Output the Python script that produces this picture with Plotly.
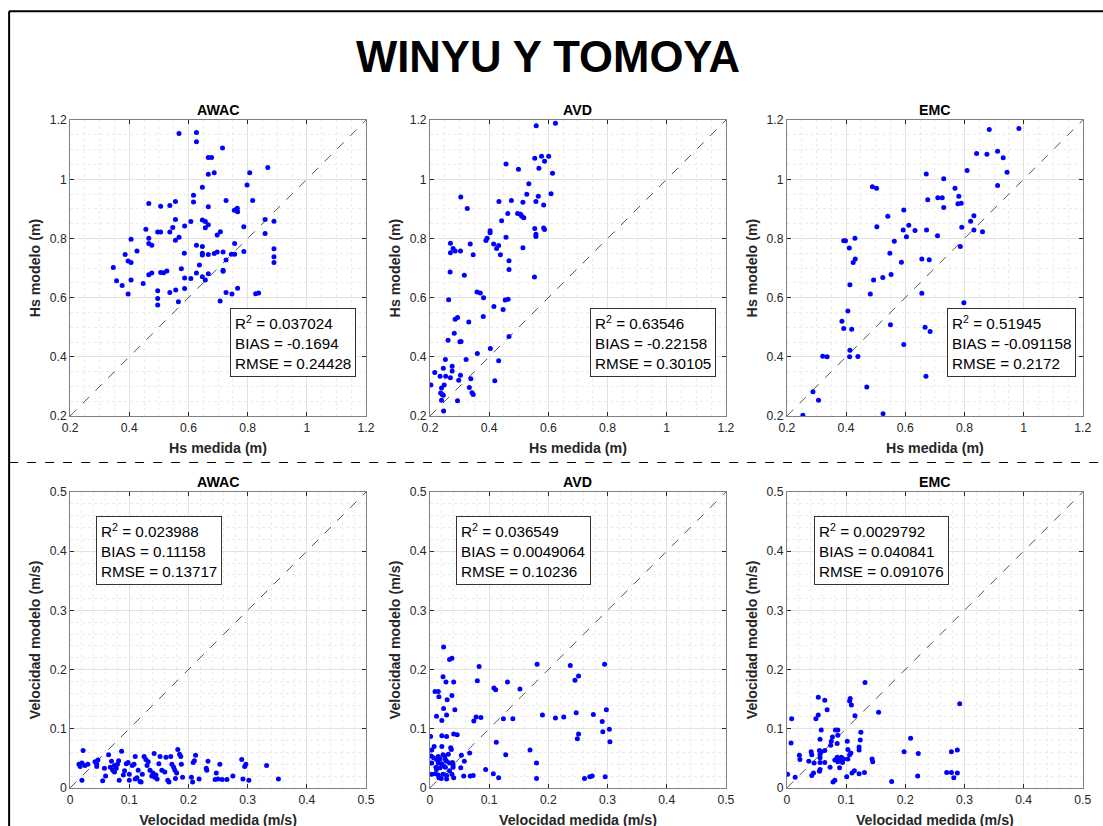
import plotly.graph_objects as go

# The captured picture shows the page slightly reduced and offset by the body margin;
# positions below are given in picture pixels and mapped back to figure pixels.
W, H = 1103, 826
PAGE_MARGIN = 8
SX, SY, OY = 0.985, 0.9835, -2.0
FW = int(round(W / SX - PAGE_MARGIN))
FH = int(round((H - OY) / SY - PAGE_MARGIN))
FS = 1 / SX  # font scale

# ---------------- data ----------------
names = ["AWAC", "AVD", "EMC"]

awac_hs_med = [0.568, 0.627, 0.627, 0.715, 0.667, 0.678, 0.667, 0.687, 0.868, 0.807, 0.798, 0.647,
               0.617, 0.617, 0.466, 0.506, 0.537, 0.556, 0.667, 0.727, 0.817, 0.755, 0.762, 0.765,
               0.766, 0.556, 0.608, 0.647, 0.657, 0.667, 0.657, 0.587, 0.547, 0.456, 0.787, 0.859,
               0.889, 0.859, 0.496, 0.506, 0.537, 0.708, 0.697, 0.406, 0.466, 0.568, 0.556, 0.426,
               0.466, 0.476, 0.386, 0.627, 0.647, 0.586, 0.647, 0.647, 0.667, 0.687, 0.697, 0.717,
               0.756, 0.745, 0.756, 0.787, 0.889, 0.889, 0.889, 0.727, 0.396, 0.406, 0.346, 0.637,
               0.576, 0.506, 0.516, 0.527, 0.466, 0.476, 0.717, 0.717, 0.627, 0.667, 0.647, 0.657,
               0.587, 0.608, 0.357, 0.406, 0.376, 0.447, 0.557, 0.587, 0.496, 0.537, 0.396, 0.727,
               0.747, 0.766, 0.827, 0.837, 0.496, 0.496, 0.566, 0.707]
awac_hs_mod = [1.155, 1.158, 1.127, 1.106, 1.074, 1.074, 1.017, 1.022, 1.040, 1.022, 0.981, 0.973,
               0.946, 0.923, 0.918, 0.909, 0.911, 0.925, 0.907, 0.928, 0.928, 0.895, 0.898, 0.902,
               0.890, 0.864, 0.857, 0.862, 0.857, 0.846, 0.836, 0.842, 0.837, 0.831, 0.840, 0.864,
               0.858, 0.817, 0.822, 0.822, 0.822, 0.823, 0.812, 0.797, 0.801, 0.804, 0.794, 0.758,
               0.783, 0.777, 0.746, 0.777, 0.773, 0.750, 0.750, 0.744, 0.746, 0.749, 0.754, 0.754,
               0.783, 0.747, 0.747, 0.756, 0.765, 0.738, 0.719, 0.727, 0.724, 0.719, 0.702, 0.710,
               0.698, 0.685, 0.684, 0.690, 0.677, 0.683, 0.693, 0.689, 0.683, 0.681, 0.671, 0.660,
               0.666, 0.665, 0.657, 0.660, 0.641, 0.648, 0.626, 0.631, 0.623, 0.617, 0.612, 0.617,
               0.612, 0.632, 0.613, 0.616, 0.597, 0.575, 0.586, 0.589]

avd_hs_med = [0.624, 0.559, 0.577, 0.601, 0.554, 0.587, 0.457, 0.499, 0.568, 0.614, 0.534, 0.527,
              0.609, 0.566, 0.304, 0.433, 0.475, 0.514, 0.558, 0.584, 0.326, 0.463, 0.496, 0.506,
              0.510, 0.517, 0.442, 0.403, 0.403, 0.554, 0.584, 0.587, 0.393, 0.389, 0.457, 0.558,
              0.558, 0.415, 0.425, 0.432, 0.336, 0.269, 0.278, 0.285, 0.269, 0.303, 0.346, 0.514,
              0.438, 0.467, 0.467, 0.268, 0.316, 0.553, 0.359, 0.370, 0.381, 0.454, 0.464, 0.263,
              0.416, 0.447, 0.380, 0.293, 0.285, 0.331, 0.282, 0.261, 0.301, 0.305, 0.467, 0.404,
              0.360, 0.322, 0.432, 0.252, 0.275, 0.275, 0.245, 0.216, 0.234, 0.253, 0.269, 0.303,
              0.297, 0.338, 0.419, 0.248, 0.203, 0.239, 0.333, 0.236, 0.241, 0.245, 0.342, 0.346,
              0.239, 0.293, 0.246]
avd_hs_mod = [1.189, 1.181, 1.078, 1.078, 1.071, 1.061, 1.052, 1.034, 1.037, 1.020, 0.985, 0.949,
              0.951, 0.943, 0.940, 0.925, 0.928, 0.922, 0.925, 0.913, 0.901, 0.884, 0.884, 0.882,
              0.875, 0.870, 0.860, 0.826, 0.819, 0.834, 0.835, 0.830, 0.801, 0.793, 0.804, 0.814,
              0.807, 0.781, 0.766, 0.776, 0.781, 0.784, 0.766, 0.758, 0.752, 0.758, 0.745, 0.769,
              0.745, 0.725, 0.695, 0.687, 0.676, 0.670, 0.619, 0.616, 0.600, 0.592, 0.595, 0.593,
              0.570, 0.560, 0.536, 0.533, 0.527, 0.518, 0.480, 0.456, 0.451, 0.452, 0.469, 0.428,
              0.411, 0.391, 0.387, 0.391, 0.368, 0.352, 0.361, 0.347, 0.334, 0.334, 0.329, 0.338,
              0.321, 0.326, 0.319, 0.305, 0.305, 0.295, 0.296, 0.278, 0.273, 0.270, 0.279, 0.273,
              0.253, 0.252, 0.217]

emc_hs_med = [0.884, 0.984, 0.912, 0.841, 0.876, 0.931, 0.809, 0.944, 0.671, 0.730, 0.912, 0.489,
              0.503, 0.768, 0.676, 0.710, 0.725, 0.781, 0.778, 0.789, 0.730, 0.595, 0.541, 0.504,
              0.612, 0.593, 0.633, 0.672, 0.821, 0.832, 0.832, 0.791, 0.861, 0.604, 0.709, 0.392,
              0.398, 0.430, 0.563, 0.411, 0.786, 0.548, 0.431, 0.656, 0.424, 0.681, 0.587, 0.552,
              0.524, 0.493, 0.413, 0.482, 0.656, 0.798, 0.406, 0.386, 0.392, 0.419, 0.550, 0.667,
              0.684, 0.595, 0.413, 0.412, 0.321, 0.336, 0.440, 0.670, 0.470, 0.288, 0.307, 0.254,
              0.525]
emc_hs_mod = [1.168, 1.172, 1.095, 1.087, 1.085, 1.073, 1.030, 1.024, 1.018, 1.002, 0.979, 0.975,
              0.970, 0.970, 0.931, 0.938, 0.938, 0.943, 0.917, 0.919, 0.905, 0.896, 0.875, 0.840,
              0.845, 0.829, 0.827, 0.829, 0.858, 0.877, 0.829, 0.838, 0.823, 0.806, 0.809, 0.792,
              0.792, 0.801, 0.791, 0.768, 0.773, 0.750, 0.731, 0.731, 0.719, 0.728, 0.720, 0.678,
              0.668, 0.660, 0.644, 0.612, 0.615, 0.583, 0.555, 0.520, 0.496, 0.493, 0.508, 0.500,
              0.486, 0.442, 0.422, 0.400, 0.402, 0.400, 0.401, 0.334, 0.298, 0.282, 0.253, 0.203,
              0.208]

awac_v_med = [0.015, 0.017, 0.020, 0.022, 0.020, 0.025, 0.030, 0.042, 0.045, 0.047, 0.045, 0.055,
              0.060, 0.058, 0.065, 0.068, 0.070, 0.072, 0.075, 0.075, 0.078, 0.080, 0.082, 0.083,
              0.087, 0.090, 0.092, 0.095, 0.098, 0.100, 0.100, 0.105, 0.108, 0.110, 0.110, 0.113,
              0.115, 0.118, 0.120, 0.122, 0.125, 0.128, 0.130, 0.132, 0.135, 0.138, 0.140, 0.142,
              0.143, 0.145, 0.147, 0.150, 0.152, 0.155, 0.160, 0.162, 0.165, 0.167, 0.170, 0.172,
              0.175, 0.177, 0.178, 0.180, 0.182, 0.185, 0.187, 0.188, 0.190, 0.205, 0.207, 0.208,
              0.210, 0.212, 0.218, 0.230, 0.231, 0.233, 0.245, 0.247, 0.250, 0.253, 0.257, 0.265,
              0.275, 0.290, 0.292, 0.295, 0.297, 0.302, 0.332, 0.352]
awac_v_mod = [0.040, 0.036, 0.042, 0.063, 0.013, 0.038, 0.040, 0.044, 0.036, 0.047, 0.040, 0.012,
              0.020, 0.033, 0.056, 0.035, 0.045, 0.030, 0.038, 0.027, 0.033, 0.040, 0.046, 0.013,
              0.062, 0.022, 0.029, 0.041, 0.043, 0.023, 0.013, 0.038, 0.040, 0.053, 0.015, 0.017,
              0.030, 0.011, 0.010, 0.023, 0.053, 0.048, 0.038, 0.044, 0.030, 0.020, 0.025, 0.058,
              0.018, 0.022, 0.015, 0.041, 0.053, 0.030, 0.027, 0.052, 0.013, 0.010, 0.053, 0.040,
              0.035, 0.030, 0.016, 0.025, 0.065, 0.057, 0.053, 0.040, 0.018, 0.018, 0.010, 0.043,
              0.046, 0.055, 0.015, 0.033, 0.030, 0.045, 0.014, 0.025, 0.015, 0.040, 0.014, 0.014,
              0.020, 0.048, 0.015, 0.036, 0.040, 0.013, 0.038, 0.015]

avd_v_med = [0.023, 0.033, 0.037, 0.022, 0.027, 0.040, 0.0085, 0.014, 0.015, 0.029, 0.037, 0.023,
             0.042, 0.011, 0.028, 0.020, 0.001, 0.020, 0.028, 0.040, 0.046, 0.007, 0.003, 0.020,
             0.035, 0.036, 0.002, 0.006, 0.014, 0.022, 0.025, 0.031, 0.011, 0.017, 0.026, 0.028,
             0.000, 0.003, 0.014, 0.020, 0.033, 0.038, 0.039, 0.010, 0.011, 0.017, 0.023, 0.026,
             0.033, 0.039, 0.003, 0.009, 0.014, 0.022, 0.028, 0.037, 0.015, 0.019, 0.028, 0.040,
             0.053, 0.058, 0.052, 0.057, 0.067, 0.068, 0.073, 0.074, 0.078, 0.086, 0.080, 0.083,
             0.094, 0.107, 0.108, 0.111, 0.112, 0.116, 0.124, 0.131, 0.140, 0.128, 0.152, 0.169,
             0.180, 0.180, 0.181, 0.190, 0.212, 0.226, 0.237, 0.245, 0.251, 0.247, 0.249, 0.251,
             0.261, 0.270, 0.274, 0.276, 0.291, 0.292, 0.295, 0.298, 0.296, 0.303, 0.304]
avd_v_mod = [0.238, 0.217, 0.219, 0.188, 0.179, 0.179, 0.163, 0.163, 0.154, 0.149, 0.156, 0.134,
             0.132, 0.121, 0.123, 0.114, 0.087, 0.088, 0.087, 0.091, 0.090, 0.070, 0.064, 0.070,
             0.068, 0.065, 0.054, 0.051, 0.053, 0.056, 0.054, 0.057, 0.048, 0.049, 0.048, 0.045,
             0.042, 0.042, 0.042, 0.041, 0.042, 0.043, 0.039, 0.035, 0.031, 0.034, 0.037, 0.035,
             0.029, 0.035, 0.023, 0.024, 0.022, 0.023, 0.021, 0.023, 0.017, 0.016, 0.015, 0.017,
             0.055, 0.045, 0.034, 0.020, 0.059, 0.020, 0.021, 0.113, 0.120, 0.119, 0.181, 0.205,
             0.031, 0.024, 0.169, 0.166, 0.077, 0.017, 0.117, 0.179, 0.117, 0.056, 0.167, 0.064,
             0.042, 0.016, 0.209, 0.123, 0.118, 0.120, 0.207, 0.182, 0.189, 0.127, 0.083, 0.091,
             0.016, 0.019, 0.020, 0.124, 0.112, 0.095, 0.209, 0.132, 0.019, 0.099, 0.078]

emc_v_med = [0.001, 0.007, 0.008, 0.014, 0.021, 0.022, 0.037, 0.041, 0.042, 0.042, 0.045, 0.046,
             0.049, 0.053, 0.053, 0.056, 0.058, 0.055, 0.056, 0.058, 0.056, 0.056, 0.055, 0.056,
             0.064, 0.064, 0.064, 0.068, 0.073, 0.074, 0.075, 0.077, 0.078, 0.081, 0.082, 0.086,
             0.085, 0.086, 0.081, 0.086, 0.085, 0.090, 0.092, 0.094, 0.096, 0.089, 0.101, 0.102,
             0.103, 0.103, 0.106, 0.107, 0.106, 0.108, 0.109, 0.110, 0.114, 0.115, 0.122, 0.122,
             0.122, 0.124, 0.125, 0.131, 0.132, 0.144, 0.145, 0.155, 0.177, 0.198, 0.209, 0.221,
             0.222, 0.270, 0.278, 0.278, 0.282, 0.288, 0.288, 0.292]
emc_v_mod = [0.023, 0.076, 0.117, 0.018, 0.055, 0.048, 0.045, 0.061, 0.056, 0.021, 0.025, 0.042,
             0.117, 0.123, 0.153, 0.082, 0.098, 0.063, 0.056, 0.061, 0.051, 0.043, 0.028, 0.031,
             0.148, 0.063, 0.043, 0.132, 0.035, 0.072, 0.079, 0.086, 0.010, 0.013, 0.098, 0.098,
             0.075, 0.089, 0.047, 0.044, 0.052, 0.046, 0.052, 0.043, 0.049, 0.034, 0.019, 0.079,
             0.065, 0.049, 0.147, 0.151, 0.056, 0.059, 0.140, 0.025, 0.029, 0.122, 0.024, 0.069,
             0.064, 0.081, 0.094, 0.026, 0.178, 0.049, 0.044, 0.128, 0.011, 0.061, 0.084, 0.020,
             0.058, 0.026, 0.026, 0.061, 0.017, 0.064, 0.025, 0.142]

hs_range = [0.2, 1.2]
v_range = [0.0, 0.5]

stats_hs = [("0.037024", "-0.1694", "0.24428"),
            ("0.63546", "-0.22158", "0.30105"),
            ("0.51945", "-0.091158", "0.2172")]
stats_v = [("0.023988", "0.11158", "0.13717"),
           ("0.036549", "0.0049064", "0.10236"),
           ("0.0029792", "0.040841", "0.091076")]

main_title = "WINYU Y TOMOYA"
xlab_hs, ylab_hs = "Hs medida (m)", "Hs modelo (m)"
xlab_v, ylab_v = "Velocidad medida (m/s)", "Velocidad modelo (m/s)"

# ---------------- layout geometry (picture pixels) ----------------
col_px = [(70, 366), (430, 726), (787, 1083)]
row_px = [(119, 415), (491, 787)]
box_hs_px = [(230, 307), (590, 307), (947, 307)]
box_v_px = [(96, 515), (456, 515), (814, 515)]

def px_x(q):
    return (q / SX - PAGE_MARGIN) / FW

def px_y(q):
    return 1 - ((q - OY) / SY - PAGE_MARGIN) / FH

FONT = "Liberation Sans, Arial, Helvetica, sans-serif"
AXC = "#262626"

fig = go.Figure()

panels = [
    (awac_hs_med, awac_hs_mod, 0, 0), (avd_hs_med, avd_hs_mod, 0, 1), (emc_hs_med, emc_hs_mod, 0, 2),
    (awac_v_med, awac_v_mod, 1, 0), (avd_v_med, avd_v_mod, 1, 1), (emc_v_med, emc_v_mod, 1, 2),
]

annotations = []
for k, (xs, ys, r, c) in enumerate(panels):
    idx = k + 1
    xa = "x" if idx == 1 else f"x{idx}"
    ya = "y" if idx == 1 else f"y{idx}"
    rng = hs_range if r == 0 else v_range
    dt = 0.2 if r == 0 else 0.1
    mdt = 0.05 if r == 0 else 0.02
    xl = xlab_hs if r == 0 else xlab_v
    yl = ylab_hs if r == 0 else ylab_v

    fig.add_trace(go.Scatter(x=rng, y=rng, mode="lines", xaxis=xa, yaxis=ya,
                             line=dict(color="#555555", width=1, dash="dash"),
                             showlegend=False, hoverinfo="skip"))
    fig.add_trace(go.Scatter(x=xs, y=ys, mode="markers", xaxis=xa, yaxis=ya,
                             marker=dict(color="#0000ff", size=5, line=dict(width=0)),
                             showlegend=False))

    common = dict(range=rng, dtick=dt, tick0=rng[0], showgrid=True, gridcolor="#e2e2e2",
                  gridwidth=1, zeroline=False, ticks="inside", ticklen=4, tickcolor=AXC,
                  showline=True, linecolor="#808080", linewidth=1, mirror="allticks",
                  tickfont=dict(family=FONT, size=12 * FS, color=AXC),
                  minor=dict(dtick=mdt, showgrid=True, gridcolor="#ececec", griddash="dot",
                             gridwidth=1, ticks=""),
                  fixedrange=True)
    x0, x1 = col_px[c]
    y0, y1 = row_px[r]
    xkey = "xaxis" if idx == 1 else f"xaxis{idx}"
    ykey = "yaxis" if idx == 1 else f"yaxis{idx}"
    fig.layout[xkey] = dict(common, domain=[px_x(x0), px_x(x1)], anchor=ya,
                            title=dict(text=f"<b>{xl}</b>", standoff=9,
                                       font=dict(family=FONT, size=14 * FS, color=AXC)))
    fig.layout[ykey] = dict(common, domain=[px_y(y1), px_y(y0)], anchor=xa,
                            title=dict(text=f"<b>{yl}</b>", standoff=5,
                                       font=dict(family=FONT, size=14 * FS, color=AXC)))

    # subplot title
    annotations.append(dict(text=f"<b>{names[c]}</b>", x=px_x((x0 + x1) / 2), y=px_y(y0 - 10),
                            xref="paper", yref="paper", showarrow=False,
                            xanchor="center", yanchor="middle",
                            font=dict(family=FONT, size=14 * FS, color="#000000")))
    # stats box
    st = stats_hs[c] if r == 0 else stats_v[c]
    bx, by = (box_hs_px if r == 0 else box_v_px)[c]
    annotations.append(dict(text=f"R<sup>2</sup> = {st[0]}<br>BIAS = {st[1]}<br>RMSE = {st[2]}",
                            x=px_x(bx), y=px_y(by), xref="paper", yref="paper",
                            xanchor="left", yanchor="top", align="left", showarrow=False,
                            bgcolor="#ffffff", bordercolor="#333333", borderwidth=1, borderpad=4,
                            font=dict(family=FONT, size=15 * FS, color="#000000")))

annotations.append(dict(text=f"<b>{main_title}</b>", x=px_x(548), y=px_y(55), xref="paper",
                        yref="paper", showarrow=False, xanchor="center", yanchor="middle",
                        font=dict(family="Liberation Sans Narrow, Arial Narrow, Liberation Sans",
                                  size=43 * FS, color="#000000")))

shapes = [
    dict(type="line", xref="paper", yref="paper", x0=px_x(9), x1=1, y0=px_y(10), y1=px_y(10),
         line=dict(color="#000000", width=2)),
    dict(type="line", xref="paper", yref="paper", x0=px_x(9), x1=px_x(9), y0=px_y(10), y1=0,
         line=dict(color="#000000", width=2)),
    dict(type="line", xref="paper", yref="paper", x0=px_x(9), x1=1, y0=px_y(461.5), y1=px_y(461.5),
         line=dict(color="#000000", width=1, dash="dash")),
]

fig.update_layout(width=FW, height=FH, margin=dict(l=0, r=0, t=0, b=0),
                  paper_bgcolor="#ffffff", plot_bgcolor="#ffffff",
                  annotations=annotations, shapes=shapes, showlegend=False)

fig.write_html("out.html")
